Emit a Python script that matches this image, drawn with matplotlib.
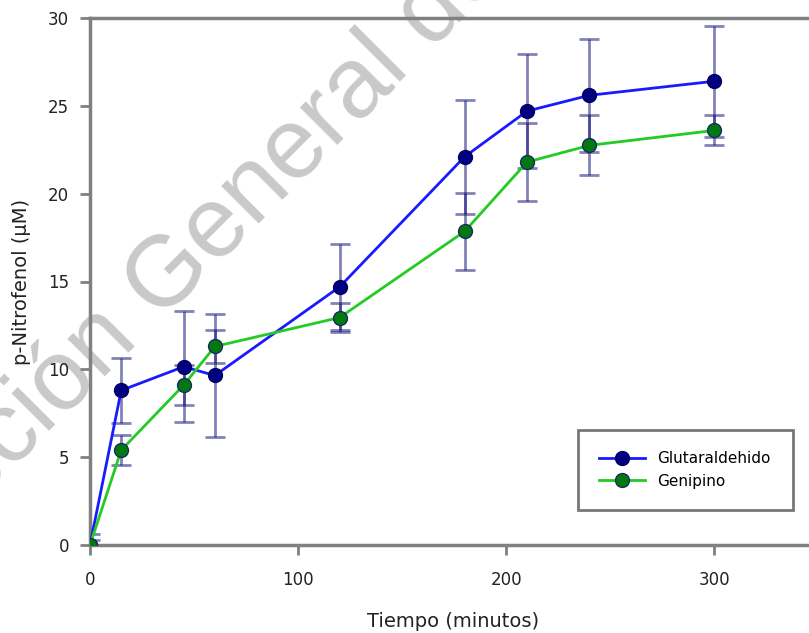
import matplotlib
matplotlib.use("Agg")
import matplotlib.pyplot as plt

# Time points (minutes)
tiempo = [0, 15, 45, 60, 120, 180, 210, 240, 300]

# p-Nitrophenol release (uM), mean and error
glutaraldehido = [0.0, 8.8, 10.15, 9.65, 14.7, 22.1, 24.7, 25.6, 26.4]
glutaraldehido_err = [0.65, 1.85, 3.15, 3.5, 2.45, 3.25, 3.25, 3.2, 3.15]

genipino = [0.0, 5.4, 9.1, 11.3, 12.95, 17.85, 21.8, 22.75, 23.6]
genipino_err = [0.3, 0.85, 1.15, 0.95, 0.8, 2.2, 2.2, 1.7, 0.85]

xticks = [0, 100, 200, 300]
yticks = [0, 5, 10, 15, 20, 25, 30]

plt.rcParams["font.family"] = ["DejaVu Sans"]

W, H = 809, 633
fig = plt.figure(figsize=(W / 100, H / 100), dpi=100)
ax = fig.add_axes([90 / W, 1 - 545 / H, 1 - 90 / W, (545 - 18) / H])

# watermark text behind the data, split around a shared anchor point
wm = dict(fontsize=72, family="Liberation Sans", color="#c9c9c9", rotation=45,
          rotation_mode="anchor", va="baseline", zorder=-1)
anchor = (160 / W, 1 - 322 / H)
fig.text(*anchor, "Dirección ", ha="right", **wm)
fig.text(*anchor, "General de Bibliotecas", ha="left", **wm)
ax.set_facecolor("none")

err_kw = dict(fmt="none", ecolor="#1c1c80", alpha=0.55, elinewidth=2,
              capsize=7, capthick=2, zorder=2)
ax.errorbar(tiempo, glutaraldehido, yerr=glutaraldehido_err, **err_kw)
ax.errorbar(tiempo, genipino, yerr=genipino_err, **err_kw)

ax.plot(tiempo, glutaraldehido, color="#1a1aff", lw=2, marker="o",
        markersize=10, markerfacecolor="#000080", markeredgecolor="#000060",
        label="Glutaraldehido", zorder=3)
ax.plot(tiempo, genipino, color="#22cc22", lw=2, marker="o",
        markersize=10, markerfacecolor="#007a10", markeredgecolor="#1a2a60",
        label="Genipino", zorder=4)

ax.set_xlim(0, 345.5)
ax.set_ylim(0, 30)
ax.set_xticks(xticks)
ax.set_yticks(yticks)
ax.set_xticklabels([str(v) for v in xticks], fontsize=12)
ax.set_yticklabels([str(v) for v in yticks], fontsize=12)

ax.spines["right"].set_visible(False)
for side in ("left", "bottom", "top"):
    ax.spines[side].set_color("#808080")
    ax.spines[side].set_linewidth(2.5)
ax.tick_params(axis="both", colors="#808080", width=2, length=7,
               labelcolor="#222222", direction="out")
ax.tick_params(axis="x", pad=12)
ax.tick_params(axis="y", pad=8)

ax.set_xlabel("Tiempo (minutos)", fontsize=14, color="#222222")
ax.set_ylabel("p-Nitrofenol (µM)", fontsize=14, color="#222222")
ax.xaxis.set_label_coords((453 - 90) / 719, (545 - 612) / 527)
ax.yaxis.set_label_coords((31 - 90) / 719, 0.5)

leg = fig.legend(loc="lower left",
                 bbox_to_anchor=(578 / W, 1 - 510 / H, (793 - 578) / W, (510 - 430) / H),
                 mode="expand", borderaxespad=0, fontsize=11, frameon=True,
                 fancybox=False, handlelength=3, borderpad=1.4, labelspacing=0.5)
leg.get_frame().set_edgecolor("#555555")
leg.get_frame().set_linewidth(2)

fig.savefig("out.png", dpi=100)
